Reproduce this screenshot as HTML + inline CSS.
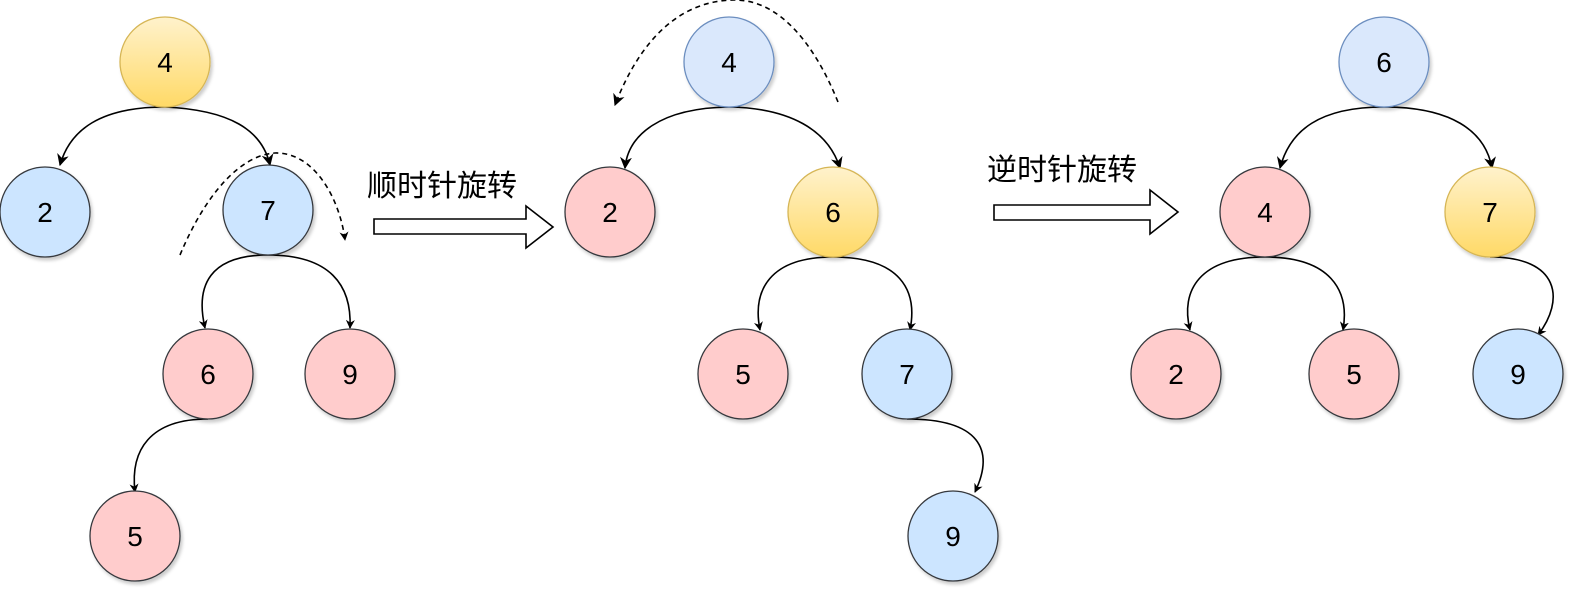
<!DOCTYPE html>
<html><head><meta charset="utf-8"><style>
html,body{margin:0;padding:0;background:#fff;}
svg{display:block;}
text{font-family:"Liberation Sans","Noto Sans CJK SC",sans-serif;}
</style></head><body>
<svg width="1580" height="593" viewBox="0 0 1580 593" xmlns="http://www.w3.org/2000/svg">
<defs>
<linearGradient id="yg" x1="0" y1="0" x2="0" y2="1"><stop offset="0" stop-color="#fff2cc"/><stop offset="1" stop-color="#ffd966"/></linearGradient>
<marker id="ah" viewBox="0 0 10 10" refX="9" refY="5" markerWidth="9" markerHeight="9" orient="auto" markerUnits="userSpaceOnUse"><path d="M0,0 L10,5 L0,10 L3,5 z" fill="#000"/></marker>
<marker id="ah2" viewBox="0 0 10 10" refX="9" refY="5" markerWidth="12" markerHeight="12" orient="auto" markerUnits="userSpaceOnUse"><path d="M0,0 L10,5 L0,10 L3,5 z" fill="#000"/></marker>
<filter id="sh"><feDropShadow dx="2" dy="3" stdDeviation="1.5" flood-color="#000" flood-opacity="0.2"/></filter>
</defs>
<g fill="none" stroke="#000" stroke-width="1.6">
<!-- tree 1 -->
<path d="M165,107 C100,107 70,130 60,165" marker-end="url(#ah2)"/>
<path d="M165,107 C230,110 262,130 270,165" marker-end="url(#ah2)"/>
<path d="M268,255 C210,255 195,285 205,328" marker-end="url(#ah)"/>
<path d="M268,255 C330,255 352,285 350,328" marker-end="url(#ah)"/>
<path d="M208,419 C150,419 130,450 135,492" marker-end="url(#ah)"/>
<path d="M180,255 C205,195 240,155 275,153 C315,152 340,200 345,240" stroke-dasharray="5,4" marker-end="url(#ah)"/>
<!-- tree 2 -->
<path d="M729,107 C660,108 628,135 625,168" marker-end="url(#ah2)"/>
<path d="M729,107 C790,108 828,130 840,168" marker-end="url(#ah2)"/>
<path d="M833,257 C770,257 752,290 760,330" marker-end="url(#ah)"/>
<path d="M833,257 C900,257 918,290 910,330" marker-end="url(#ah)"/>
<path d="M907,419 C980,419 995,450 975,492" marker-end="url(#ah)"/>
<path d="M838,102 C815,45 780,0 735,0 C680,0 640,40 615,105" stroke-dasharray="5,4" marker-end="url(#ah2)"/>
<!-- tree 3 -->
<path d="M1384,107 C1320,107 1290,130 1280,168" marker-end="url(#ah2)"/>
<path d="M1384,107 C1450,107 1485,130 1492,168" marker-end="url(#ah2)"/>
<path d="M1265,257 C1200,257 1180,290 1190,330" marker-end="url(#ah)"/>
<path d="M1265,257 C1330,257 1350,290 1343,330" marker-end="url(#ah)"/>
<path d="M1490,257 C1560,257 1565,300 1538,335" marker-end="url(#ah)"/>
</g>
<!-- big arrows -->
<path d="M374,219 L526,219 L526,206 L553,227 L526,248 L526,234 L374,234 Z" fill="#fff" stroke="#000" stroke-width="1.6"/>
<path d="M994,205 L1150,205 L1150,190 L1178,212 L1150,234 L1150,220 L994,220 Z" fill="#fff" stroke="#000" stroke-width="1.6"/>
<text x="367" y="196" font-size="30" font-family="Liberation Sans,Noto Sans CJK SC,sans-serif">顺时针旋转</text>
<text x="987" y="180" font-size="30" font-family="Liberation Sans,Noto Sans CJK SC,sans-serif">逆时针旋转</text>
<!-- nodes -->
<g filter="url(#sh)" stroke-width="1.3">
<circle cx="165" cy="62" r="45" fill="url(#yg)" stroke="#d6b656"/>
<circle cx="45" cy="212" r="45" fill="#cce5ff" stroke="#36393d"/>
<circle cx="268" cy="210" r="45" fill="#cce5ff" stroke="#36393d"/>
<circle cx="208" cy="374" r="45" fill="#ffcccc" stroke="#36393d"/>
<circle cx="350" cy="374" r="45" fill="#ffcccc" stroke="#36393d"/>
<circle cx="135" cy="536" r="45" fill="#ffcccc" stroke="#36393d"/>

<circle cx="729" cy="62" r="45" fill="#dae8fc" stroke="#6c8ebf"/>
<circle cx="610" cy="212" r="45" fill="#ffcccc" stroke="#36393d"/>
<circle cx="833" cy="212" r="45" fill="url(#yg)" stroke="#d6b656"/>
<circle cx="743" cy="374" r="45" fill="#ffcccc" stroke="#36393d"/>
<circle cx="907" cy="374" r="45" fill="#cce5ff" stroke="#36393d"/>
<circle cx="953" cy="536" r="45" fill="#cce5ff" stroke="#36393d"/>

<circle cx="1384" cy="62" r="45" fill="#dae8fc" stroke="#6c8ebf"/>
<circle cx="1265" cy="212" r="45" fill="#ffcccc" stroke="#36393d"/>
<circle cx="1490" cy="212" r="45" fill="url(#yg)" stroke="#d6b656"/>
<circle cx="1176" cy="374" r="45" fill="#ffcccc" stroke="#36393d"/>
<circle cx="1354" cy="374" r="45" fill="#ffcccc" stroke="#36393d"/>
<circle cx="1518" cy="374" r="45" fill="#cce5ff" stroke="#36393d"/>
</g>
<g font-size="28" text-anchor="middle" fill="#000">
<text x="165" y="72">4</text><text x="45" y="222">2</text><text x="268" y="220">7</text>
<text x="208" y="384">6</text><text x="350" y="384">9</text><text x="135" y="546">5</text>
<text x="729" y="72">4</text><text x="610" y="222">2</text><text x="833" y="222">6</text>
<text x="743" y="384">5</text><text x="907" y="384">7</text><text x="953" y="546">9</text>
<text x="1384" y="72">6</text><text x="1265" y="222">4</text><text x="1490" y="222">7</text>
<text x="1176" y="384">2</text><text x="1354" y="384">5</text><text x="1518" y="384">9</text>
</g>
</svg>
</body></html>
